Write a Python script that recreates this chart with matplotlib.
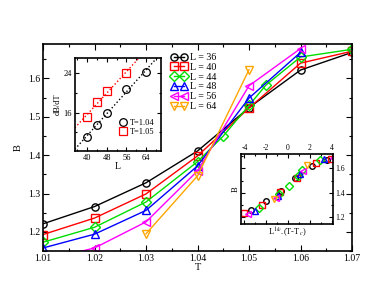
import numpy as np
import matplotlib
matplotlib.use("Agg")
import matplotlib.pyplot as plt
from matplotlib.ticker import MultipleLocator, FormatStrFormatter

plt.rcParams['font.family'] = ['Liberation Serif', 'DejaVu Serif']
plt.rcParams['mathtext.fontset'] = 'stix'
plt.rcParams['axes.unicode_minus'] = False

# ---------------- main data ----------------
T_36 = [1.01, 1.02, 1.03, 1.04, 1.05, 1.06, 1.07]
B_36 = [1.221, 1.266, 1.328, 1.411, 1.524, 1.622, 1.668]
T_40 = [1.01, 1.02, 1.03, 1.04, 1.05, 1.06, 1.07]
B_40 = [1.193, 1.236, 1.299, 1.398, 1.523, 1.640, 1.671]
T_44 = [1.01, 1.02, 1.03, 1.04, 1.045, 1.05, 1.0533, 1.06, 1.07]
B_44 = [1.173, 1.212, 1.278, 1.383, 1.450, 1.530, 1.583, 1.656, 1.676]
T_48 = [1.01, 1.02, 1.03, 1.04, 1.05, 1.06]
B_48 = [1.158, 1.194, 1.256, 1.372, 1.549, 1.668]
T_56 = [1.01, 1.02, 1.03, 1.04, 1.05, 1.06]
B_56 = [1.125, 1.158, 1.226, 1.359, 1.581, 1.678]
T_64 = [1.03, 1.04, 1.05]
B_64 = [1.195, 1.346, 1.623]

labels = ["L = 36", "L = 40", "L = 44", "L = 48", "L = 56", "L = 64"]
colors = ["black", "red", "#00dd00", "blue", "magenta", "orange"]
markers = ["o", "s", "D", "^", "<", "v"]
xtick_labels = ["1.01", "1.02", "1.03", "1.04", "1.05", "1.06", "1.07"]

# ---------------- inset 1 data ----------------
L_104 = [40, 44, 48, 56, 64]
D_104 = [11.1, 13.5, 16.0, 20.75, 24.3]
L_105 = [40, 44, 48, 56]
D_105 = [15.1, 18.2, 20.5, 24.0]

# ---------------- inset 2 data (collapse) ----------------
X_36 = [-3.41, -2.04, -0.61, 0.67, 2.20, 3.57]
Y_36 = [1.260, 1.333, 1.415, 1.523, 1.620, 1.673]
X_40 = [-4.03, -2.38, -0.70, 0.78, 2.54, 3.97]
Y_40 = [1.238, 1.300, 1.409, 1.523, 1.646, 1.680]
X_44 = [-2.68, -0.82, 0.06, 0.91, 1.30, 2.90]
Y_44 = [1.280, 1.390, 1.455, 1.537, 1.583, 1.668]
X_48 = [-3.05, -0.91, 1.13, 3.27]
Y_48 = [1.250, 1.378, 1.551, 1.680]
X_56 = [-3.72, -1.07, 1.38, 4.15]
Y_56 = [1.225, 1.360, 1.578, 1.682]
X_64 = [-1.28, 1.77]
Y_64 = [1.347, 1.627]

Ts = [T_36, T_40, T_44, T_48, T_56, T_64]
Bs = [B_36, B_40, B_44, B_48, B_56, B_64]
Xs = [X_36, X_40, X_44, X_48, X_56, X_64]
Ys = [Y_36, Y_40, Y_44, Y_48, Y_56, Y_64]

fig = plt.figure(figsize=(3.82, 2.95), dpi=100)

ax = fig.add_axes([0.1126, 0.149, 0.809, 0.702])
for T, B, c, m, lab in zip(Ts, Bs, colors, markers, labels):
    ax.plot(T, B, color=c, marker=m, mfc='none', mec=c, ms=5.2, mew=1.0,
            lw=1.0, label=lab)
ax.set_xlim(1.01, 1.07)
ax.set_ylim(1.15, 1.69)
ax.set_xticks([float(s) for s in xtick_labels])
ax.set_xticklabels(xtick_labels)
ax.xaxis.set_minor_locator(MultipleLocator(0.005))
ax.yaxis.set_major_locator(MultipleLocator(0.1))
ax.yaxis.set_minor_locator(MultipleLocator(0.05))
ax.yaxis.set_major_formatter(FormatStrFormatter('%.1f'))
ax.tick_params(which='both', direction='in', top=True, right=True, labelsize=7, pad=2)
ax.tick_params(which='major', length=4, width=0.8)
ax.tick_params(which='minor', length=2, width=0.8)
ax.set_xlabel("T", fontsize=7.5, labelpad=0)
ax.set_ylabel("B", fontsize=7.5, labelpad=4)
for s in ax.spines.values():
    s.set_linewidth(1.2)
ax.legend(loc='upper left', bbox_to_anchor=(0.395, 0.985), frameon=False,
          fontsize=7.2, numpoints=2, handlelength=1.6, handletextpad=0.3,
          labelspacing=0.08, borderaxespad=0.2)

# inset 1
ax1 = fig.add_axes([0.196, 0.488, 0.225, 0.315])
ax1.set_xlim(35, 70)
ax1.set_ylim(8.2, 27.1)
xx = np.array([35, 70])
p1 = np.polyfit(L_104, D_104, 1)
p2 = np.polyfit(L_105, D_105, 1)
ax1.plot(xx, np.polyval(p1, xx), color='black', ls=':', lw=1.0)
ax1.plot(xx, np.polyval(p2, xx), color='red', ls=':', lw=1.0)
ax1.plot(L_104, D_104, ls='none', marker='o', mfc='none', mec='black', ms=5.5, mew=0.9, label='T=1.04')
ax1.plot(L_105, D_105, ls='none', marker='s', mfc='none', mec='red', ms=5.5, mew=0.9, label='T=1.05')
ax1.xaxis.set_major_locator(MultipleLocator(8))
ax1.xaxis.set_minor_locator(MultipleLocator(4))
ax1.yaxis.set_major_locator(MultipleLocator(8))
ax1.yaxis.set_minor_locator(MultipleLocator(4))
ax1.tick_params(which='both', direction='in', top=True, right=True, labelsize=6, pad=2)
ax1.tick_params(which='major', length=3, width=0.8)
ax1.tick_params(which='minor', length=1.5, width=0.8)
ax1.set_xlabel("L", fontsize=7, labelpad=0)
ax1.set_ylabel("dB/dT", fontsize=6, labelpad=1)
for s in ax1.spines.values():
    s.set_linewidth(1.2)
ax1.legend(loc='lower right', bbox_to_anchor=(1.0, 0.1), frameon=False, fontsize=6,
           handlelength=1.0, handletextpad=0.4, labelspacing=0.15, borderaxespad=0.3)

# inset 2
ax2 = fig.add_axes([0.630, 0.2407, 0.2424, 0.236])
for X, Y, c, m in zip(Xs, Ys, colors, markers):
    ax2.plot(X, Y, ls='none', marker=m, mfc='none', mec=c, ms=4.0, mew=1.0)
ax2.set_xlim(-4.35, 4.15)
ax2.set_ylim(1.145, 1.715)
ax2.xaxis.set_major_locator(MultipleLocator(2))
ax2.xaxis.set_minor_locator(MultipleLocator(1))
ax2.yaxis.set_major_locator(MultipleLocator(0.2))
ax2.yaxis.set_minor_locator(MultipleLocator(0.1))
ax2.yaxis.set_major_formatter(FormatStrFormatter('%.1f'))
ax2.tick_params(which='both', direction='in', top=True, right=True, bottom=True, left=True,
                labeltop=True, labelbottom=False, labelright=True, labelleft=False,
                labelsize=5.5, pad=1.5)
ax2.tick_params(which='major', length=3, width=0.8)
ax2.tick_params(which='minor', length=1.5, width=0.8)
ax2.set_xlabel(r"L$^{1/\nu}$.(T-T$_c$)", fontsize=6, labelpad=1)
ax2.set_ylabel("B", fontsize=6, labelpad=1)
for s in ax2.spines.values():
    s.set_linewidth(1.2)

fig.savefig("out.png", dpi=100)
